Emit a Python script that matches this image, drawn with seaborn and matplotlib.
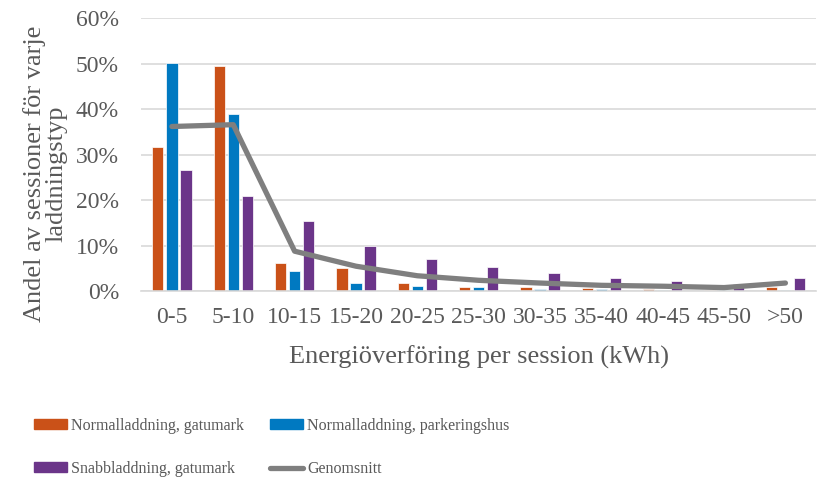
import matplotlib
matplotlib.use("Agg")
import matplotlib.pyplot as plt
from matplotlib.patches import Patch
from matplotlib.lines import Line2D
from matplotlib.ticker import PercentFormatter
import seaborn as sns
import pandas as pd
import numpy as np

# data (share of sessions, %)
categories = ["0-5", "5-10", "10-15", "15-20", "20-25", "25-30", "30-35",
              "35-40", "40-45", "45-50", ">50"]
normal_gata = [31.6, 49.5, 6.3, 5.0, 1.8, 1.0, 1.0, 0.7, 0.5, 0.2, 1.0]
normal_phus = [50.2, 39.0, 4.5, 1.8, 1.1, 0.9, 0.5, 0.4, 0.3, 0.2, 0.3]
snabb_gata = [26.7, 20.9, 15.5, 10.0, 7.1, 5.4, 4.0, 2.8, 2.2, 1.5, 2.9]
genomsnitt = [36.2, 36.6, 8.8, 5.5, 3.4, 2.4, 1.8, 1.3, 1.1, 0.8, 1.8]

series = ["Normalladdning, gatumark", "Normalladdning, parkeringshus",
          "Snabbladdning, gatumark"]
colors = ["#CA5118", "#0079C1", "#6B3589"]
line_label = "Genomsnitt"
line_color = "#7F7F7F"

df = pd.DataFrame({
    "kat": categories * 3,
    "andel": normal_gata + normal_phus + snabb_gata,
    "typ": [series[0]] * 11 + [series[1]] * 11 + [series[2]] * 11,
})

sns.set_style("white")
plt.rcParams["font.family"] = ["Liberation Serif", "DejaVu Serif"]
text_col = "#595959"

fig = plt.figure(figsize=(8.26, 4.79), dpi=100)
ax = fig.add_axes([0.171, 0.392, 0.817, 0.570])

sns.barplot(data=df, x="kat", y="andel", hue="typ", order=categories,
            hue_order=series, palette=colors, saturation=1, width=0.69,
            gap=0.2, edgecolor="white", linewidth=0.5, ax=ax, legend=False)
ax.plot(np.arange(len(categories)), genomsnitt, color=line_color, lw=3.8,
        solid_capstyle="round", solid_joinstyle="round", zorder=5)

ax.set_ylim(0, 60)
ax.set_yticks(np.arange(0, 61, 10))
ax.yaxis.set_major_formatter(PercentFormatter(decimals=0))
ax.set_xlim(-0.5, len(categories) - 0.5)
ax.grid(axis="y", color="#D9D9D9", lw=1.2)
ax.set_axisbelow(True)
for s in ["top", "right", "left"]:
    ax.spines[s].set_visible(False)
ax.spines["bottom"].set_color("#D9D9D9")
ax.spines["bottom"].set_linewidth(1.2)
ax.tick_params(axis="both", length=0, labelsize=17, colors=text_col)
ax.tick_params(axis="x", pad=11)
ax.tick_params(axis="y", pad=16)

ax.set_xlabel("Energiöverföring per session (kWh)", fontsize=19,
              color=text_col, labelpad=13)
ax.set_ylabel("Andel av sessioner för varje\nladdningstyp", fontsize=19,
              color=text_col, labelpad=6, linespacing=0.95)
ax.yaxis.label.set_y(0.43)

handles = [Patch(color=colors[0]), Patch(color=colors[2]),
           Patch(color=colors[1]), Line2D([], [], color=line_color, lw=3.8)]
labels = [series[0], series[2], series[1], line_label]
leg = fig.legend(handles, labels, ncol=2, loc="upper left",
                 bbox_to_anchor=(0.041, 0.128), frameon=False, fontsize=11.5,
                 borderpad=0, borderaxespad=0,
                 handlelength=2.1, handleheight=0.55, handletextpad=0.25,
                 columnspacing=1.6, labelspacing=1.7)
for t in leg.get_texts():
    t.set_color(text_col)

fig.savefig("out.png", dpi=100)
